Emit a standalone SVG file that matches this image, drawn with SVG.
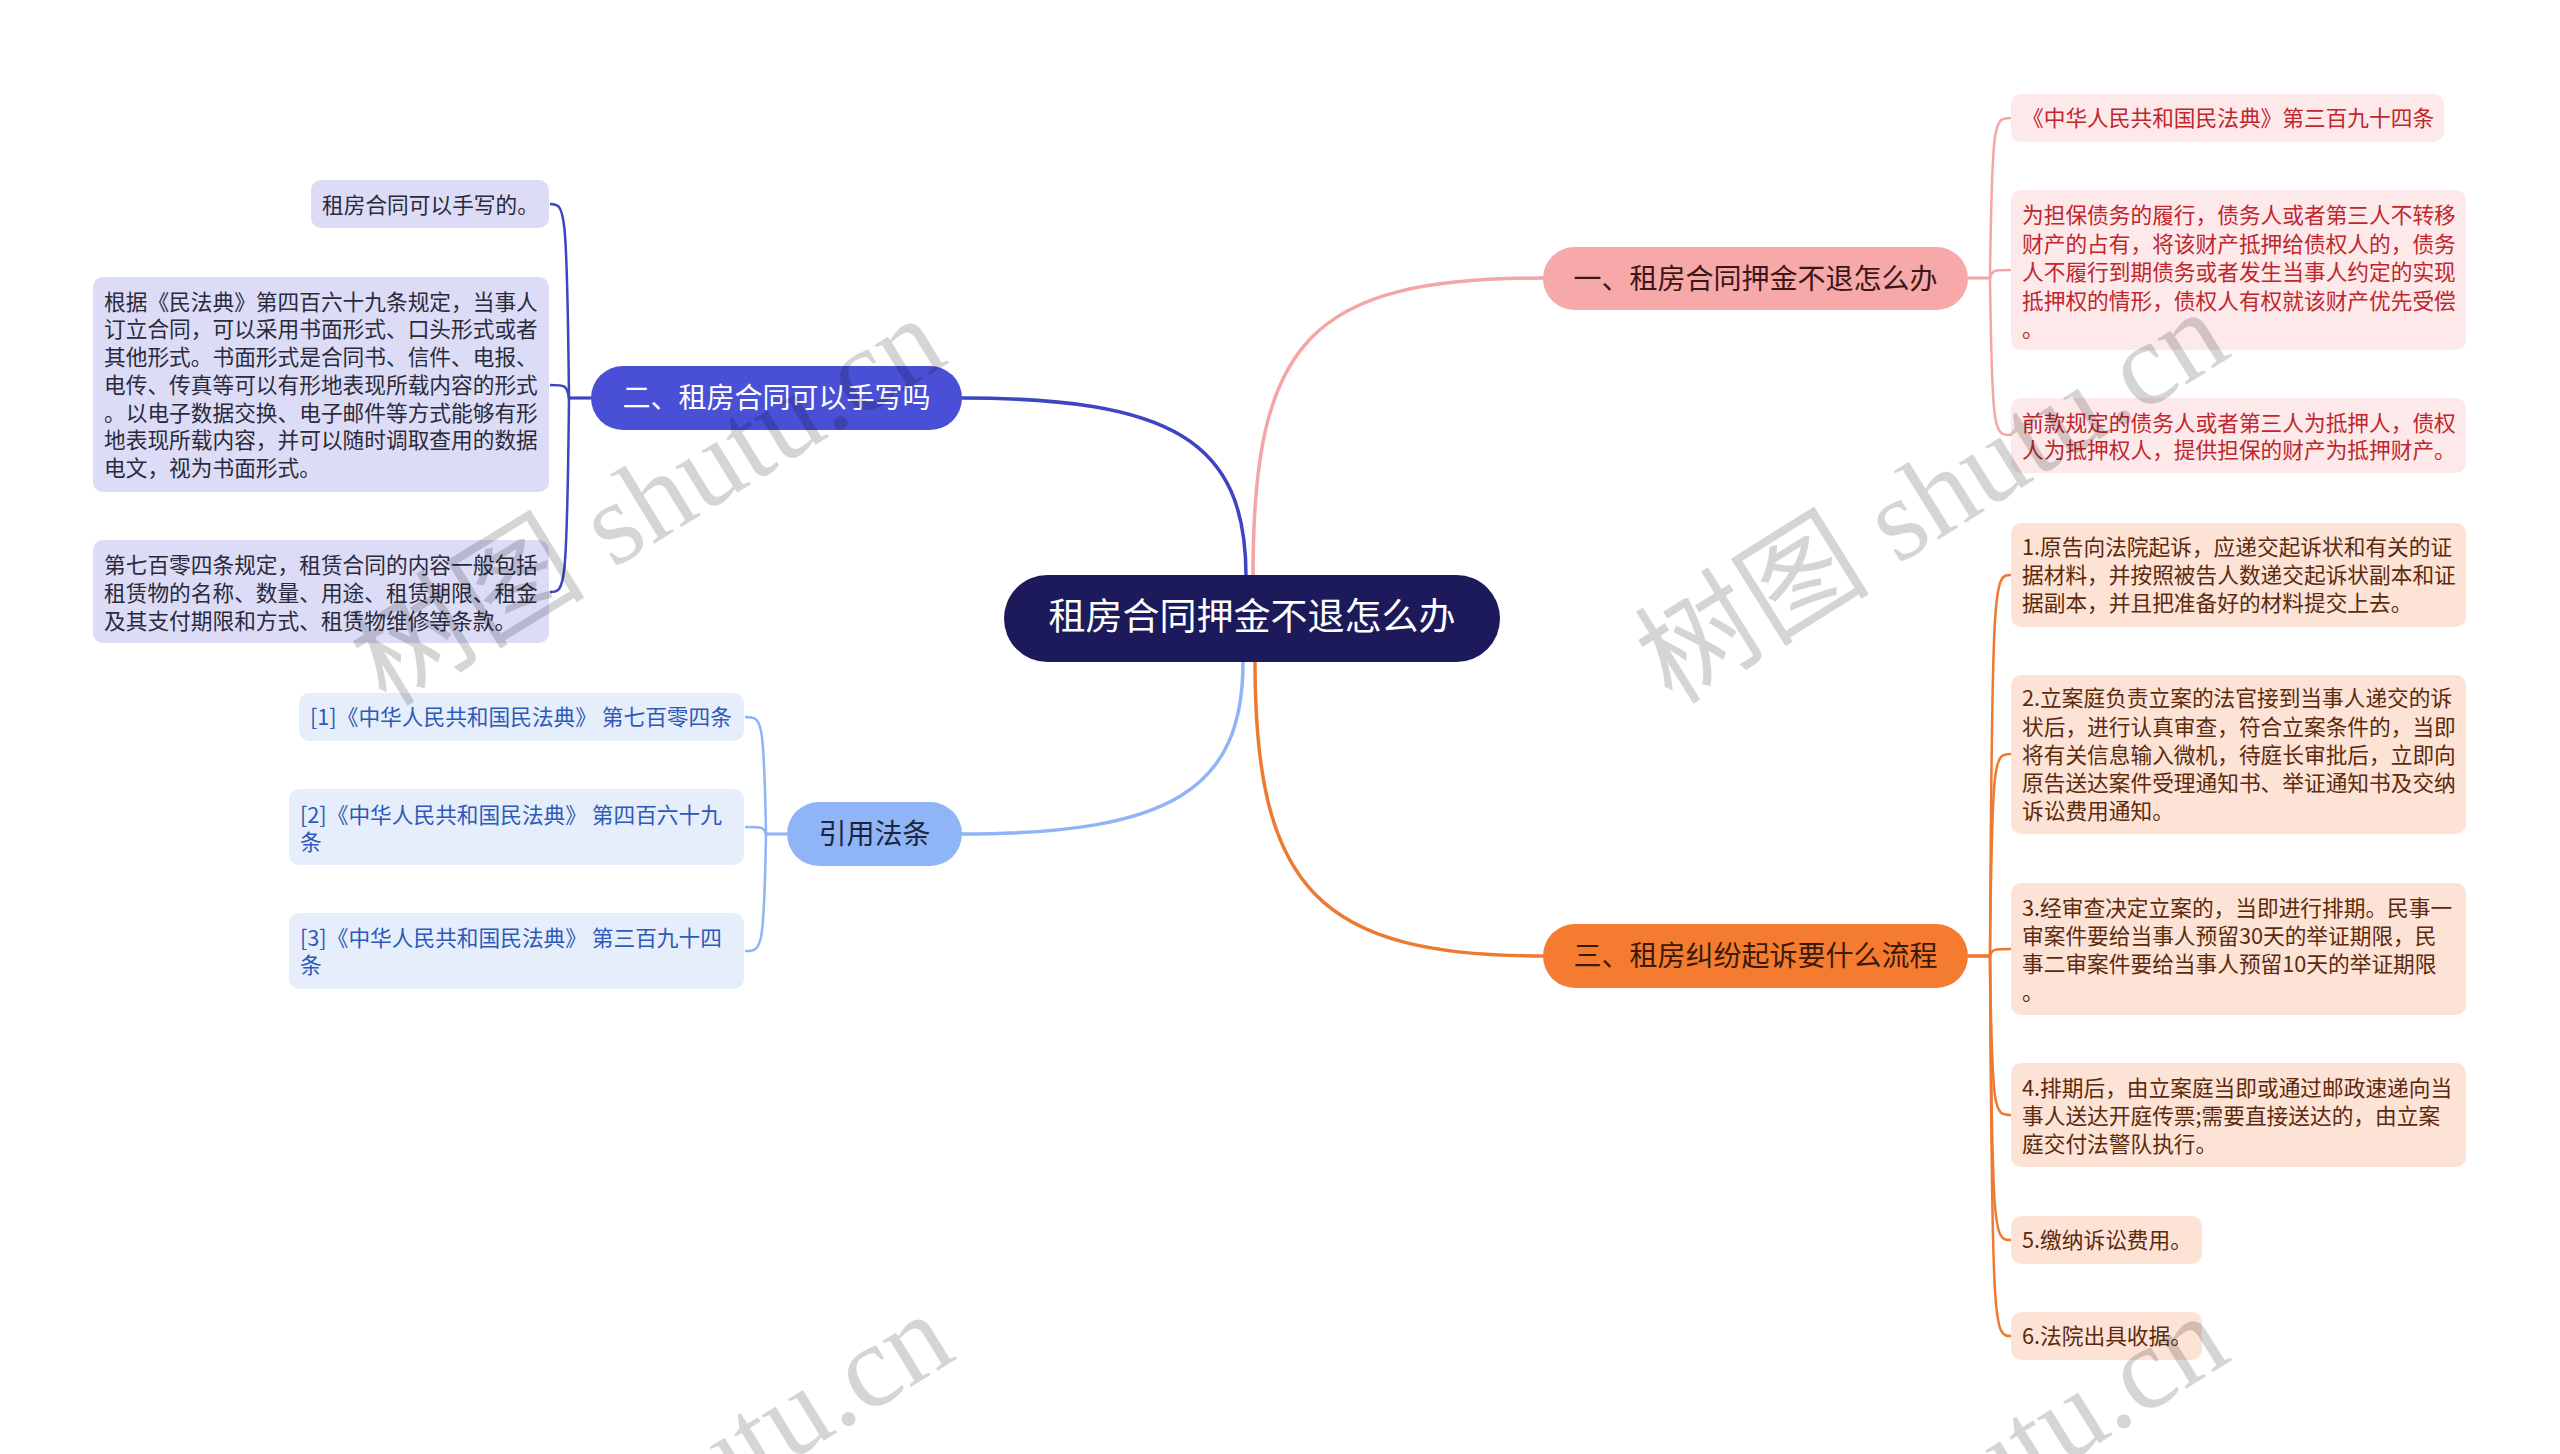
<svg xmlns="http://www.w3.org/2000/svg" width="2560" height="1454" viewBox="0 0 2560 1454">
<style>
.t{font-family:"Noto Sans CJK SC","Noto Sans",sans-serif;}
.leaf{font-size:21.7px;}
.main{font-size:28px;text-anchor:middle;}
.c{fill:none;stroke-linecap:round;}
.wm{font-family:"Liberation Serif","Noto Sans CJK SC",serif;font-size:118px;fill:#000;opacity:0.16;text-anchor:middle;dominant-baseline:central;}
</style>
<rect width="2560" height="1454" fill="#ffffff"/>
<g id="connectors">
  <path class="c" d="M1253,576 C1253,340 1310,278 1543,278" stroke="#f4a6a6" stroke-width="3.5"/>
  <path class="c" d="M962,398 C1170,398 1246,440 1246,576" stroke="#3d45c2" stroke-width="3.5"/>
  <path class="c" d="M962,834 C1170,834 1243,790 1243,662" stroke="#8fb5f6" stroke-width="3.5"/>
  <path class="c" d="M1255,662 C1255,890 1320,956 1543,956" stroke="#ee7a32" stroke-width="3.5"/>
  <g stroke="#f4a6a6" stroke-width="2.5" fill="none">
    <path d="M1968,278 H1990 C1992,118 1994,118 2011,118"/>
    <path d="M1968,278 H1990 C1992,270 1994,270 2011,270"/>
    <path d="M1968,278 H1990 C1992,435 1994,435 2011,435"/>
  </g>
  <g stroke="#ee7a32" stroke-width="2.5" fill="none">
    <path d="M1968,956 H1990 C1992,575 1994,575 2011,575"/>
    <path d="M1968,956 H1990 C1992,754 1994,754 2011,754"/>
    <path d="M1968,956 H1990 C1992,949 1994,949 2011,949"/>
    <path d="M1968,956 H1990 C1992,1115 1994,1115 2011,1115"/>
    <path d="M1968,956 H1990 C1992,1240 1994,1240 2011,1240"/>
    <path d="M1968,956 H1990 C1992,1336 1994,1336 2011,1336"/>
  </g>
  <g stroke="#3d45c2" stroke-width="2.5" fill="none">
    <path d="M591,398 H569 C567,204 565,204 550,204"/>
    <path d="M591,398 H569 C567,385 565,385 550,385"/>
    <path d="M591,398 H569 C567,592 565,592 550,592"/>
  </g>
  <g stroke="#8fb5f6" stroke-width="2.5" fill="none">
    <path d="M787,834 H766 C764,717 762,717 745,717"/>
    <path d="M787,834 H766 C764,827 762,827 745,827"/>
    <path d="M787,834 H766 C764,951 762,951 745,951"/>
  </g>
</g>
<g id="root" class="t">
  <rect x="1004" y="575" width="496" height="87" rx="43.5" fill="#1c1a5b"/>
  <text x="1252" y="630" font-size="37" text-anchor="middle" fill="#ffffff">租房合同押金不退怎么办</text>
</g>
<g id="b1" class="t">
  <rect x="1543" y="247" width="425" height="63" rx="31.5" fill="#f7a8a8"/>
  <text class="main" x="1755.5" y="288.5" fill="#3b1717">一、租房合同押金不退怎么办</text>
</g>
<g id="b2" class="t">
  <rect x="591" y="366" width="371" height="64" rx="32" fill="#4a50d6"/>
  <text class="main" x="776.5" y="408" fill="#ffffff">二、租房合同可以手写吗</text>
</g>
<g id="b4" class="t">
  <rect x="787" y="802" width="175" height="64" rx="32" fill="#8fb5f6"/>
  <text class="main" x="874.5" y="844" fill="#1b2440">引用法条</text>
</g>
<g id="b3" class="t">
  <rect x="1543" y="924" width="425" height="64" rx="32" fill="#f47b30"/>
  <text class="main" x="1755.5" y="966" fill="#3b1a08">三、租房纠纷起诉要什么流程</text>
</g>
<g id="b1-1" class="t leaf">
  <rect x="2011" y="94" width="433" height="48" rx="10" fill="#fde9e9"/>
  <text x="2022" y="126" fill="#c0262d">《中华人民共和国民法典》第三百九十四条</text>
</g>
<g id="b1-2" class="t leaf" fill="#c0262d">
  <rect x="2011" y="190" width="455" height="160" rx="10" fill="#fde9e9"/>
  <text x="2022" y="223">为担保债务的履行，债务人或者第三人不转移</text>
  <text x="2022" y="251.5">财产的占有，将该财产抵押给债权人的，债务</text>
  <text x="2022" y="280">人不履行到期债务或者发生当事人约定的实现</text>
  <text x="2022" y="308.5">抵押权的情形，债权人有权就该财产优先受偿</text>
  <text x="2022" y="337">。</text>
</g>
<g id="b1-3" class="t leaf" fill="#c0262d">
  <rect x="2011" y="398" width="455" height="75" rx="10" fill="#fde9e9"/>
  <text x="2022" y="431">前款规定的债务人或者第三人为抵押人，债权</text>
  <text x="2022" y="458">人为抵押权人，提供担保的财产为抵押财产。</text>
</g>
<g id="b3-1" class="t leaf" fill="#5c2a0c">
  <rect x="2011" y="523" width="455" height="104" rx="10" fill="#fde3d6"/>
  <text x="2022" y="555">1.原告向法院起诉，应递交起诉状和有关的证</text>
  <text x="2022" y="583">据材料，并按照被告人数递交起诉状副本和证</text>
  <text x="2022" y="611">据副本，并且把准备好的材料提交上去。</text>
</g>
<g id="b3-2" class="t leaf" fill="#5c2a0c">
  <rect x="2011" y="675" width="455" height="159" rx="10" fill="#fde3d6"/>
  <text x="2022" y="706">2.立案庭负责立案的法官接到当事人递交的诉</text>
  <text x="2022" y="734.5">状后，进行认真审查，符合立案条件的，当即</text>
  <text x="2022" y="763">将有关信息输入微机，待庭长审批后，立即向</text>
  <text x="2022" y="791">原告送达案件受理通知书、举证通知书及交纳</text>
  <text x="2022" y="819">诉讼费用通知。</text>
</g>
<g id="b3-3" class="t leaf" fill="#5c2a0c">
  <rect x="2011" y="883" width="455" height="132" rx="10" fill="#fde3d6"/>
  <text x="2022" y="916">3.经审查决定立案的，当即进行排期。民事一</text>
  <text x="2022" y="944">审案件要给当事人预留30天的举证期限，民</text>
  <text x="2022" y="971.5">事二审案件要给当事人预留10天的举证期限</text>
  <text x="2022" y="999.5">。</text>
</g>
<g id="b3-4" class="t leaf" fill="#5c2a0c">
  <rect x="2011" y="1063" width="455" height="104" rx="10" fill="#fde3d6"/>
  <text x="2022" y="1096">4.排期后，由立案庭当即或通过邮政速递向当</text>
  <text x="2022" y="1124">事人送达开庭传票;需要直接送达的，由立案</text>
  <text x="2022" y="1152">庭交付法警队执行。</text>
</g>
<g id="b3-5" class="t leaf" fill="#5c2a0c">
  <rect x="2011" y="1216" width="191" height="48" rx="10" fill="#fde3d6"/>
  <text x="2022" y="1248">5.缴纳诉讼费用。</text>
</g>
<g id="b3-6" class="t leaf" fill="#5c2a0c">
  <rect x="2011" y="1312" width="191" height="48" rx="10" fill="#fde3d6"/>
  <text x="2022" y="1344">6.法院出具收据。</text>
</g>
<g id="b2-1" class="t leaf" fill="#2a2a3a">
  <rect x="311" y="180" width="238" height="48" rx="10" fill="#dcdcf7"/>
  <text x="322" y="212.5">租房合同可以手写的。</text>
</g>
<g id="b2-2" class="t leaf" fill="#2a2a3a">
  <rect x="93" y="277" width="456" height="215" rx="10" fill="#dcdcf7"/>
  <text x="104" y="309.5">根据《民法典》第四百六十九条规定，当事人</text>
  <text x="104" y="337">订立合同，可以采用书面形式、口头形式或者</text>
  <text x="104" y="365">其他形式。书面形式是合同书、信件、电报、</text>
  <text x="104" y="392.7">电传、传真等可以有形地表现所载内容的形式</text>
  <text x="104" y="420.5">。以电子数据交换、电子邮件等方式能够有形</text>
  <text x="104" y="448.3">地表现所载内容，并可以随时调取查用的数据</text>
  <text x="104" y="476">电文，视为书面形式。</text>
</g>
<g id="b2-3" class="t leaf" fill="#2a2a3a">
  <rect x="93" y="540" width="456" height="103" rx="10" fill="#dcdcf7"/>
  <text x="104" y="573">第七百零四条规定，租赁合同的内容一般包括</text>
  <text x="104" y="601">租赁物的名称、数量、用途、租赁期限、租金</text>
  <text x="104" y="629">及其支付期限和方式、租赁物维修等条款。</text>
</g>
<g id="b4-1" class="t leaf" fill="#2d5ab8">
  <rect x="299" y="693" width="445" height="48" rx="10" fill="#e6eefc"/>
  <text x="310" y="725">[1]《中华人民共和国民法典》 第七百零四条</text>
</g>
<g id="b4-2" class="t leaf" fill="#2d5ab8">
  <rect x="289" y="789" width="455" height="76" rx="10" fill="#e6eefc"/>
  <text x="300" y="823">[2]《中华人民共和国民法典》 第四百六十九</text>
  <text x="300" y="850">条</text>
</g>
<g id="b4-3" class="t leaf" fill="#2d5ab8">
  <rect x="289" y="913" width="455" height="76" rx="10" fill="#e6eefc"/>
  <text x="300" y="946">[3]《中华人民共和国民法典》 第三百九十四</text>
  <text x="300" y="973">条</text>
</g>
<g id="watermarks">
  <text class="wm" transform="translate(648,501) rotate(-31.5)">树图 shutu.cn</text>
  <text class="wm" transform="translate(1932,497) rotate(-32)">树图 shutu.cn</text>
  <text class="wm" transform="translate(656,1497) rotate(-31.5)">树图 shutu.cn</text>
  <text class="wm" transform="translate(1932,1501) rotate(-32)">树图 shutu.cn</text>
</g>
</svg>
